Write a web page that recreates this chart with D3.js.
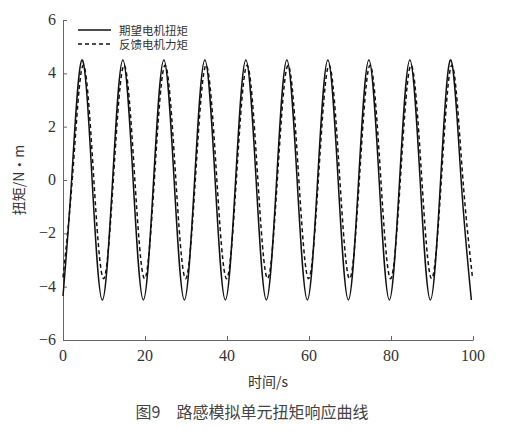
<!DOCTYPE html>
<html>
<head>
<meta charset="utf-8">
<script src="https://cdn.jsdelivr.net/npm/d3@7"></script>
<style>
  body { margin: 0; background: #fff; }
</style>
</head>
<body>
<svg id="chart" width="505" height="435"></svg>
<script>
"use strict";

// desired motor torque (solid)
let timeDesired = [0, 2.1, 4.6, 7.1, 9.6, 12.1, 14.6, 17.1, 19.6, 22.1, 24.6, 27.1, 29.6, 32.1, 34.6, 37.1, 39.6,
  42.1, 44.6, 47.1, 49.6, 52.1, 54.6, 57.1, 59.6, 62.1, 64.6, 67.1, 69.6, 72.1, 74.6, 77.1, 79.6,
  82.1, 84.6, 87.1, 89.6, 92.1, 94.6, 97.1, 99.6];
let torqueDesired = [-4.35, 0, 4.5, 0, -4.5, 0, 4.5, 0, -4.5, 0, 4.5, 0, -4.5, 0, 4.5, 0, -4.5,
  0, 4.5, 0, -4.5, 0, 4.5, 0, -4.5, 0, 4.5, 0, -4.5, 0, 4.5, 0, -4.5,
  0, 4.5, 0, -4.5, 0, 4.5, 0, -4.5];

// feedback motor torque (dashed)
let timeFeedback = [0, 2.4, 4.9, 7.4, 9.9, 12.4, 14.9, 17.4, 19.9, 22.4, 24.9, 27.4, 29.9, 32.4, 34.9, 37.4, 39.9,
  42.4, 44.9, 47.4, 49.9, 52.4, 54.9, 57.4, 59.9, 62.4, 64.9, 67.4, 69.9, 72.4, 74.9, 77.4, 79.9,
  82.4, 84.9, 87.4, 89.9, 92.4, 94.9, 97.4, 99.9];
let torqueFeedback = [-3.65, 0.3, 4.3, 0.3, -3.7, 0.3, 4.3, 0.3, -3.7, 0.3, 4.3, 0.3, -3.7, 0.3, 4.3, 0.3, -3.7,
  0.3, 4.3, 0.3, -3.7, 0.3, 4.3, 0.3, -3.7, 0.3, 4.3, 0.3, -3.7, 0.3, 4.3, 0.3, -3.7,
  0.3, 4.3, 0.3, -3.7, 0.3, 4.3, 0.3, -3.7];

let xTicks = [0, 20, 40, 60, 80, 100];
let yTicks = [-6, -4, -2, 0, 2, 4, 6];
let legendLabels = ["期望电机扭矩", "反馈电机力矩"];

let serif = "'Liberation Serif'";
let cjk = "'Noto Sans CJK SC'";

let width = 505;
let height = 435;
let margin = { left: 63, right: 32, top: 20, bottom: 95 };

let svg = d3.select("#chart");

let x = d3.scaleLinear()
  .domain([0, 100])
  .range([margin.left, width - margin.right]);

let y = d3.scaleLinear()
  .domain([-6, 6])
  .range([height - margin.bottom, margin.top]);

// axes (inward ticks); labels drawn separately so the serif font sticks
let xAxis = svg.append("g")
  .attr("transform", `translate(0, ${y(-6)})`)
  .call(d3.axisBottom(x).tickValues(xTicks).tickFormat("").tickSizeInner(-4).tickSizeOuter(0));

let yAxis = svg.append("g")
  .attr("transform", `translate(${x(0)}, 0)`)
  .call(d3.axisLeft(y).tickValues(yTicks).tickFormat("").tickSizeInner(-4).tickSizeOuter(0));

[xAxis, yAxis].forEach(function(ax) {
  ax.select(".domain").attr("stroke", "#666").attr("stroke-width", 1);
  ax.selectAll(".tick line").attr("stroke", "#666");
  ax.selectAll(".tick text").remove();
});

let fmt = d3.format("");

svg.append("g")
  .selectAll("text")
  .data(xTicks)
  .join("text")
  .attr("x", d => x(d))
  .attr("y", y(-6) + 21)
  .style("font-family", serif)
  .style("font-size", "16px")
  .style("fill", "#333")
  .style("text-anchor", "middle")
  .text(d => fmt(d));

svg.append("g")
  .selectAll("text")
  .data(yTicks)
  .join("text")
  .attr("x", x(0) - 7)
  .attr("y", d => y(d) + 5)
  .style("font-family", serif)
  .style("font-size", "16px")
  .style("fill", "#333")
  .style("text-anchor", "end")
  .text(d => fmt(d));

// lines
let line = d3.line()
  .x(d => x(d[0]))
  .y(d => y(d[1]))
  .curve(d3.curveNatural);

svg.append("path")
  .datum(d3.zip(timeDesired, torqueDesired))
  .attr("fill", "none")
  .attr("stroke", "#111")
  .attr("stroke-width", 1.5)
  .attr("d", line);

svg.append("path")
  .datum(d3.zip(timeFeedback, torqueFeedback))
  .attr("fill", "none")
  .attr("stroke", "#111")
  .attr("stroke-width", 1.5)
  .attr("stroke-dasharray", "4,3")
  .attr("d", line);

// legend
let legend = svg.append("g")
  .attr("transform", "translate(78, 30)");

legendLabels.forEach(function(label, i) {
  legend.append("line")
    .attr("x1", 0)
    .attr("x2", 33)
    .attr("y1", i * 14)
    .attr("y2", i * 14)
    .attr("stroke", "#111")
    .attr("stroke-width", 1.5)
    .attr("stroke-dasharray", i === 1 ? "4,3" : null);

  legend.append("text")
    .attr("x", 41)
    .attr("y", i * 14 + 4.5)
    .style("font-family", cjk)
    .style("font-size", "11.5px")
    .style("fill", "#333")
    .text(label);
});

// axis labels
svg.append("text")
  .attr("x", (x(0) + x(100)) / 2)
  .attr("y", 387)
  .style("font-family", cjk)
  .style("font-size", "14px")
  .style("fill", "#333")
  .style("text-anchor", "middle")
  .text("时间/s");

svg.append("text")
  .attr("transform", `translate(24, ${y(0)}) rotate(-90)`)
  .style("font-family", cjk)
  .style("font-size", "14px")
  .style("fill", "#333")
  .style("text-anchor", "middle")
  .text("扭矩/N·m");

// caption
svg.append("text")
  .attr("x", 252)
  .attr("y", 418)
  .style("font-family", cjk)
  .style("font-size", "16px")
  .style("fill", "#444")
  .style("text-anchor", "middle")
  .text("图9　路感模拟单元扭矩响应曲线");
</script>
</body>
</html>
